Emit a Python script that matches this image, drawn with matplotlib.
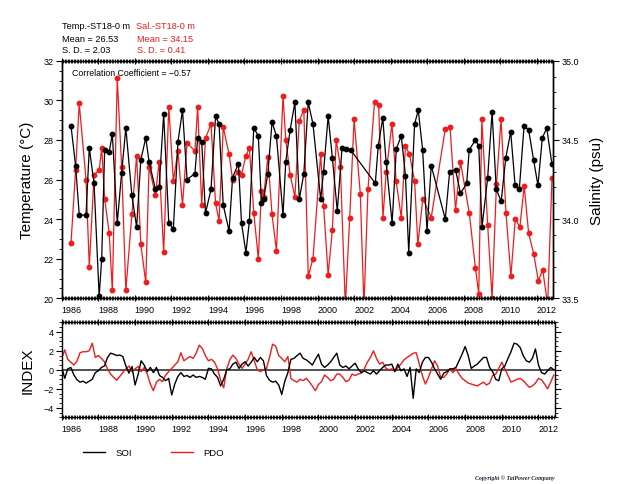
import numpy as np
import matplotlib
matplotlib.use("Agg")
import matplotlib.pyplot as plt
from matplotlib.ticker import MultipleLocator
from matplotlib.lines import Line2D

plt.rcParams['font.family'] = ['Liberation Sans', 'DejaVu Sans']

# Station ST18, 0 m: sea temperature (deg C)
temp_time = [1986.51, 1986.76, 1986.96, 1987.33, 1987.51, 1987.77, 1988.05, 1988.19, 1988.35, 1988.60,
             1988.77, 1989.04, 1989.28, 1989.51, 1989.84, 1990.10, 1990.33, 1990.60, 1990.78, 1991.13,
             1991.33, 1991.58, 1991.86, 1992.11, 1992.36, 1992.61, 1992.86, 1993.29, 1993.44, 1993.66,
             1993.87, 1994.17, 1994.42, 1994.61, 1994.84, 1995.16, 1995.35, 1995.67, 1995.84, 1996.08,
             1996.27, 1996.51, 1996.76, 1996.93, 1997.05, 1997.28, 1997.51, 1997.75, 1998.11, 1998.26,
             1998.50, 1998.76, 1999.00, 1999.25, 1999.49, 1999.75, 2000.17, 2000.33, 2000.58, 2000.81,
             2001.08, 2001.34, 2001.57, 2001.81, 2003.16, 2003.32, 2003.57, 2003.75, 2004.08, 2004.31,
             2004.58, 2004.81, 2004.99, 2005.31, 2005.51, 2005.75, 2005.99, 2006.22, 2006.99, 2007.23,
             2007.55, 2007.82, 2008.16, 2008.30, 2008.64, 2008.82, 2009.00, 2009.31, 2009.55, 2009.78,
             2010.05, 2010.30, 2010.57, 2010.81, 2011.04, 2011.30, 2011.55, 2011.82, 2012.06, 2012.30,
             2012.54, 2012.82]
temp_val = [28.7, 26.7, 24.2, 24.2, 27.6, 25.8, 20.1, 22.0, 27.5, 27.4,
            28.3, 23.8, 26.35, 28.6, 25.2, 23.6, 27.0, 28.1, 26.9, 25.5,
            25.6, 29.3, 23.8, 23.5, 27.9, 29.5, 26.0, 26.3, 28.1, 27.9,
            24.3, 25.5, 29.2, 28.8, 24.7, 23.4, 26.1, 26.8, 23.8, 22.3,
            23.9, 28.6, 28.2, 24.8, 25.0, 26.3, 28.9, 28.2, 24.2, 26.9,
            28.5, 29.9, 25.0, 26.3, 29.9, 28.8, 25.0, 26.4, 29.2, 27.1,
            24.4, 27.6, 27.55, 27.5, 25.8, 27.7, 29.1, 26.9, 23.8, 27.55,
            28.2, 26.2, 22.3, 28.8, 29.5, 27.5, 23.4, 26.7, 24.0, 26.4,
            26.5, 25.3, 25.8, 27.5, 28.0, 27.7, 23.6, 26.1, 29.4, 25.5,
            24.9, 27.1, 28.4, 25.7, 25.5, 28.7, 28.5, 27.0, 25.7, 28.1,
            28.6, 26.8]

# Station ST18, 0 m: salinity (psu)
sal_time = [1986.51, 1986.76, 1986.96, 1987.33, 1987.51, 1987.77, 1988.05, 1988.19, 1988.35, 1988.60,
            1988.77, 1989.04, 1989.28, 1989.51, 1989.84, 1990.10, 1990.33, 1990.60, 1990.78, 1991.13,
            1991.33, 1991.58, 1991.86, 1992.11, 1992.36, 1992.61, 1992.86, 1993.29, 1993.44, 1993.66,
            1993.87, 1994.17, 1994.42, 1994.61, 1994.84, 1995.16, 1995.35, 1995.67, 1995.84, 1996.08,
            1996.27, 1996.51, 1996.76, 1996.93, 1997.05, 1997.28, 1997.51, 1997.75, 1998.11, 1998.26,
            1998.50, 1998.76, 1999.00, 1999.25, 1999.49, 1999.75, 2000.17, 2000.33, 2000.58, 2000.81,
            2001.02, 2001.25, 2001.52, 2001.76, 2002.00, 2002.34, 2002.54, 2002.76, 2003.12, 2003.34,
            2003.58, 2003.76, 2004.07, 2004.30, 2004.58, 2004.81, 2005.03, 2005.31, 2005.49, 2005.76,
            2006.22, 2006.99, 2007.25, 2007.55, 2007.82, 2008.30, 2008.64, 2008.82, 2008.99, 2009.31,
            2009.55, 2009.79, 2010.04, 2010.31, 2010.58, 2010.82, 2011.07, 2011.31, 2011.55, 2011.83,
            2012.08, 2012.32, 2012.59, 2012.83]
sal_val = [33.85, 34.31, 34.73, 34.25, 33.70, 34.28, 34.31, 34.45, 34.13, 33.91,
           33.55, 34.89, 34.33, 33.55, 34.03, 34.40, 33.84, 33.60, 34.33, 34.15,
           34.36, 33.79, 34.71, 34.24, 34.43, 34.09, 34.48, 34.43, 34.71, 34.09,
           34.51, 34.60, 34.10, 33.99, 34.58, 34.41, 34.25, 34.30, 34.28, 34.40,
           34.45, 34.04, 33.75, 34.18, 34.14, 34.39, 34.03, 33.80, 34.78, 34.50,
           34.28, 34.14, 34.62, 34.69, 33.64, 33.75, 34.41, 34.08, 33.65, 33.93,
           34.50, 34.33, 33.45, 34.01, 34.63, 34.16, 33.45, 34.19, 34.74, 34.72,
           34.01, 34.30, 34.60, 34.24, 34.01, 34.46, 34.41, 34.24, 33.84, 34.13,
           34.01, 34.57, 34.58, 34.06, 34.36, 34.04, 33.69, 33.53, 34.63, 33.96,
           33.50, 34.22, 34.63, 34.04, 33.64, 34.00, 33.95, 34.21, 33.91, 33.78,
           33.61, 33.68, 33.46, 34.26]

# Climate indices, every two months from Jan 1986
index_start = 1986.0
index_step = 1.0 / 6.0
soi = [0.3, -0.9, 0.1, 0.25, -0.55, -1.05, -1.3, -1.2, -1.4, -1.2,
       -1.0, -0.3, -0.1, 0.25, 0.4, 1.3, 1.75, 1.65, 1.5, 1.55,
       1.4, 0.4, -0.35, 0.35, -1.6, -0.5, 0.95, 0.5, -0.2, 0.25,
       -0.3, 0.25, -0.6, -0.8, -1.15, -0.9, -2.65, -1.5, -0.7, -0.3,
       -0.7, -0.6, -0.8, -0.55, -0.8, -0.7, -0.8, -1.0, 0.15, 0.1,
       -0.45, -0.8, -1.7, -1.0, 0.0, 0.1, 0.6, 0.8, 0.15, 0.6,
       0.85, 0.4, 0.8, 1.3, 0.85, 1.3, 0.95, -0.6, -1.1, -1.3,
       -1.2, -1.6, -2.6, -1.2, -0.3, 1.1, 1.2, 1.5, 1.75, 1.2,
       1.05, 0.8, 0.5, 1.1, 1.65, 0.6, 0.25, 0.5, 0.85, 1.3,
       1.75, 0.5, 0.25, 0.4, 0.1, 0.4, 0.7, 0.1, -0.3, -0.1,
       -0.3, -0.45, -0.1, -0.45, -0.1, 0.25, 0.5, 0.5, 0.6, -0.2,
       0.6, -0.1, 0.1, -0.7, 0.25, -3.0, 0.1, -0.3, 0.8, 1.3,
       1.3, 0.8, 0.1, -0.45, -1.0, -0.35, -0.2, 0.1, 0.1, 0.25,
       0.95, 1.65, 2.45, 1.5, 0.15, 0.4, 0.6, 0.95, 1.3, 1.3,
       0.25, -0.2, -1.0, -1.15, 0.1, 0.4, 1.2, 1.9, 2.8, 2.7,
       2.35, 1.5, 0.95, 0.8, 1.2, 2.2, 0.5, -0.3, -0.45, -0.1,
       0.25, 0.0]
pdo = [1.2, 2.1, 1.1, 0.8, 0.5, 0.9, 1.8, 1.9, 1.9, 2.0,
       2.8, 1.3, 1.5, 1.2, 0.85, 0.1, -0.45, -0.8, -1.1, -0.7,
       -0.3, 0.1, 0.4, -0.2, 0.1, 0.35, -0.2, 0.25, -0.45, -1.5,
       -2.2, -1.3, -1.0, -1.25, -0.55, -0.2, 0.15, 0.5, 0.85, 1.8,
       0.95, 1.2, 1.4, 1.2, 1.75, 2.6, 2.25, 1.5, 0.95, 1.1,
       0.8, 0.1, -1.1, -1.9, 0.1, 1.05, 1.55, 1.2, 0.6, 0.15,
       0.6, 1.1, 1.9, 0.95, 0.0, -0.2, 0.0, 0.15, 1.3, 2.7,
       2.5, 1.5, 1.2, 0.85, 1.4, -0.9, -1.15, -1.3, -1.0, -1.15,
       -0.9, -1.25, -1.7, -2.2, -1.55, -1.25, -0.55, -0.8, -1.15, -1.0,
       -0.45, -0.45, -0.8, -1.25, -1.1, -0.45, -0.6, -0.45, -0.35, 0.1,
       0.8, 1.3, 2.0, 1.2, 0.6, 0.8, 0.2, 0.0, 0.1, -0.1,
       0.25, 0.6, 1.05, 1.3, 1.5, 1.75, 1.8, 0.6, -0.6, -1.5,
       -0.8, 0.1, 0.95, 0.4, -0.8, -0.8, -0.45, 0.1, -0.3, 0.1,
       -0.45, -0.9, -1.15, -1.4, -1.5, -1.6, -1.7, -1.5, -1.3, -1.6,
       -1.4, -0.6, -0.45, 0.15, 0.8, 0.1, -0.6, -1.3, -1.15, -1.0,
       -0.9, -1.15, -1.5, -1.85, -1.7, -1.4, -0.9, -1.05, -1.5, -2.0,
       -1.3, -0.55]

year_ticks = list(range(1986, 2013, 2))
temp_ticks = [20, 22, 24, 26, 28, 30, 32]
sal_ticks = [33.5, 34.0, 34.5, 35.0]
index_ticks = [-4, -2, 0, 2, 4]

assert len(temp_time) == len(temp_val)
assert len(sal_time) == len(sal_val)
assert len(soi) == len(pdo)

RED = '#ee1c1c'
W, H = 627, 485
fig = plt.figure(figsize=(W / 100, H / 100), dpi=100)


def frac(x0, y0, x1, y1):
    return [x0 / W, 1 - y1 / H, (x1 - x0) / W, (y1 - y0) / H]


def style_time_axis(ax):
    ax.set_xlim(1986.0, 2012.9)
    ax.xaxis.set_major_locator(MultipleLocator(2))
    ax.xaxis.set_minor_locator(MultipleLocator(1 / 12))
    ax.tick_params(axis='x', which='major', direction='inout', length=5, width=0.8,
                   top=True, labelsize=6.5, pad=2.5)
    ax.tick_params(axis='x', which='minor', direction='inout', length=2.5, width=0.6, top=True)
    ax.set_xticks(year_ticks)
    ax.set_xticklabels([str(y) for y in year_ticks])
    for lab in ax.get_xticklabels():
        lab.set_horizontalalignment('left')
    for s in ax.spines.values():
        s.set_linewidth(1.0)


# ---- upper panel: temperature and salinity ----
ax = fig.add_axes(frac(61.7, 61.7, 553.3, 299.3))
ax2 = ax.twinx()
style_time_axis(ax)
ax.set_ylim(20, 32)
ax.set_yticks(temp_ticks)
ax.yaxis.set_minor_locator(MultipleLocator(0.5))
ax.tick_params(axis='y', which='major', direction='out', length=4, width=0.8, labelsize=6.5, pad=2)
ax.tick_params(axis='y', which='minor', direction='out', length=2, width=0.6)

ax2.set_ylim(33.5, 35.0)
ax2.set_yticks(sal_ticks)
ax2.set_yticklabels(['%.1f' % v for v in sal_ticks])
ax2.yaxis.set_minor_locator(MultipleLocator(0.1))
ax2.tick_params(axis='y', which='major', direction='out', length=4, width=0.8, labelsize=6.5, pad=2)
ax2.tick_params(axis='y', which='minor', direction='out', length=2, width=0.6)
for s in ax2.spines.values():
    s.set_linewidth(1.0)

ax2.plot(sal_time, sal_val, color=RED, lw=0.9, marker='o', ms=3.2, mec=RED, mfc=RED, zorder=2)
ax.plot(temp_time, temp_val, color='black', lw=0.9, marker='o', ms=3.2, zorder=3)
ax.set_zorder(ax2.get_zorder() + 1)
ax.patch.set_visible(False)

ax.text(0.02, 0.951, 'Correlation Coefficient = \u22120.57', transform=ax.transAxes,
        fontsize=6.3, ha='left', va='center')

# ---- lower panel: SOI and PDO ----
bx = fig.add_axes(frac(61.7, 323.3, 555.0, 418.3))
style_time_axis(bx)
bx.set_ylim(-5, 5)
bx.set_yticks(index_ticks)
bx.yaxis.set_minor_locator(MultipleLocator(0.5))
bx.tick_params(axis='y', which='major', direction='out', length=4, width=0.8,
               labelsize=6.5, pad=2, right=True)
bx.tick_params(axis='y', which='minor', direction='out', length=2, width=0.6, right=True)
t_idx = index_start + index_step * np.arange(len(soi))
bx.axhline(0, color='#333333', lw=1.2, zorder=1)
bx.plot(t_idx, pdo, color=RED, lw=1.0, zorder=2)
bx.plot(t_idx, soi, color='black', lw=1.0, zorder=3)

# ---- axis titles ----
fig.text(27.5 / W, 1 - 180 / H, 'Temperature (\u00b0C)', rotation=90, ha='center', va='center', fontsize=11)
fig.text(597.5 / W, 1 - 181 / H, 'Salinity (psu)', rotation=90, ha='center', va='center', fontsize=11)
fig.text(27.5 / W, 1 - 370.7 / H, 'INDEX', rotation=90, ha='center', va='center', fontsize=11)

# ---- header statistics ----
hdr = dict(fontsize=6.6, ha='left', va='center')
fig.text(61.7 / W, 1 - 26.7 / H, 'Temp.-ST18-0 m', color='black', **hdr)
fig.text(61.7 / W, 1 - 39.0 / H, 'Mean = 26.53', color='black', **hdr)
fig.text(61.7 / W, 1 - 50.7 / H, 'S. D. = 2.03', color='black', **hdr)
fig.text(136.0 / W, 1 - 26.7 / H, 'Sal.-ST18-0 m', color=RED, **hdr)
fig.text(136.7 / W, 1 - 39.0 / H, 'Mean = 34.15', color=RED, **hdr)
fig.text(136.7 / W, 1 - 50.7 / H, 'S. D. = 0.41', color=RED, **hdr)

# ---- legend ----
handles = [Line2D([], [], color='black', lw=1.0), Line2D([], [], color=RED, lw=1.0)]
fig.legend(handles, ['SOI', 'PDO'], loc='center left', bbox_to_anchor=(83 / W, 1 - 454 / H),
           ncol=2, frameon=False, fontsize=6.8, handlelength=2.35, handletextpad=1.05,
           columnspacing=4.2, borderpad=0, borderaxespad=0)

fig.text(515 / W, 1 - 478 / H, 'Copyright \u00a9 TaiPower Company', fontsize=4.2, ha='center',
         va='center', style='italic', weight='bold', family=['Liberation Serif', 'DejaVu Serif'],
         color='#222233')

fig.savefig('out.png', dpi=100)
